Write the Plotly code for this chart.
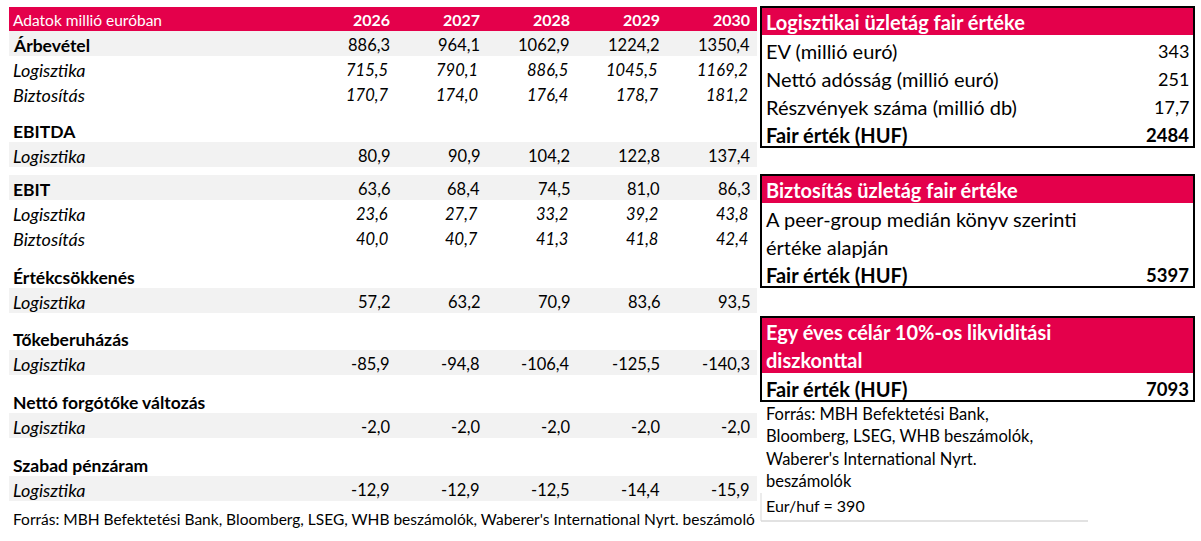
import plotly.graph_objects as go

# ---- data (millió euró) ----
years = ["2026", "2027", "2028", "2029", "2030"]
arbevetel = [886.3, 964.1, 1062.9, 1224.2, 1350.4]
arbevetel_log = [715.5, 790.1, 886.5, 1045.5, 1169.2]
arbevetel_bizt = [170.7, 174.0, 176.4, 178.7, 181.2]
ebitda_log = [80.9, 90.9, 104.2, 122.8, 137.4]
ebit = [63.6, 68.4, 74.5, 81.0, 86.3]
ebit_log = [23.6, 27.7, 33.2, 39.2, 43.8]
ebit_bizt = [40.0, 40.7, 41.3, 41.8, 42.4]
ertekcsokkenes_log = [57.2, 63.2, 70.9, 83.6, 93.5]
tokeberuhazas_log = [-85.9, -94.8, -106.4, -125.5, -140.3]
forgotoke_log = [-2.0, -2.0, -2.0, -2.0, -2.0]
szabad_penzaram_log = [-12.9, -12.9, -12.5, -14.4, -15.9]

ev = 343
netto_adossag = 251
reszvenyek = 17.7
fair_log = 2484
fair_bizt = 5397
celar = 7093
eurhuf = 390

RED = "#E4004B"
GRAY = "#F2F2F2"
FONT = "Lato"
W, H = 1201, 541


def fmt(v):
    return f"{v:.1f}".replace(".", ",")


fig = go.Figure()
shapes = []
annots = []


def text(x, y, s, size, anchor="left", color="black"):
    annots.append(dict(x=x, y=y, xref="x", yref="y", text=s, showarrow=False,
                       xanchor=anchor, yanchor="middle", borderpad=0,
                       font=dict(family=FONT, size=size, color=color)))


def rect(x0, y0, x1, y1, fill=None, line=None, lw=0):
    shapes.append(dict(type="rect", xref="x", yref="y", x0=x0, x1=x1, y0=y0, y1=y1,
                       fillcolor=fill or "rgba(0,0,0,0)",
                       line=dict(color=line or "rgba(0,0,0,0)", width=lw),
                       layer="below" if fill else "above"))


# ---- left table ----
L0, L1 = 9, 757
col_right = [390, 480, 570, 660, 750]
ROW = 25

# header
rect(L0, 7, L1, 31, fill=RED)
text(12, 19.5, "Adatok millió euróban", 15.5, color="white")
for xr, yr in zip(col_right, years):
    text(xr + 1, 19.5, f"<b>{yr}</b>", 16, anchor="right", color="white")

# kind: total = bold label + plain values, sub = italic both, item = italic label + plain values,
# section = bold label only; number = gap height
rows = [
    ("Árbevétel", arbevetel, "total", True),
    ("Logisztika", arbevetel_log, "sub", False),
    ("Biztosítás", arbevetel_bizt, "sub", False),
    11,
    ("EBITDA", None, "section", False),
    ("Logisztika", ebitda_log, "item", True),
    8,
    ("EBIT", ebit, "total", True),
    ("Logisztika", ebit_log, "sub", False),
    ("Biztosítás", ebit_bizt, "sub", False),
    13,
    ("Értékcsökkenés", None, "section", False),
    ("Logisztika", ertekcsokkenes_log, "item", True),
    12,
    ("Tőkeberuházás", None, "section", False),
    ("Logisztika", tokeberuhazas_log, "item", True),
    13,
    ("Nettó forgótőke változás", None, "section", False),
    ("Logisztika", forgotoke_log, "item", True),
    13,
    ("Szabad pénzáram", None, "section", False),
    ("Logisztika", szabad_penzaram_log, "item", True),
]

y = 31
for r in rows:
    if isinstance(r, (int, float)):
        y += r
        continue
    label, vals, kind, shaded = r
    if shaded:
        rect(L0, y, L1, y + ROW, fill=GRAY)
    yc = y + ROW / 2 + 1.5
    if kind in ("total", "section"):
        text(12, yc, f"<b>{label}</b>", 17.5)
    else:
        text(12, yc, f"<i>{label}</i>", 18)
    if vals is not None:
        for xr, v in zip(col_right, vals):
            if kind == "sub":
                text(xr - 1, yc, f"<i>{fmt(v)}</i>", 16.5, anchor="right")
            else:
                text(xr + 1, yc, fmt(v), 16.5, anchor="right")
    y += ROW

text(12, 519, "Forrás: MBH Befektetési Bank, Bloomberg, LSEG, WHB beszámolók, "
     "Waberer's International Nyrt. beszámoló", 15.5)

# ---- right panel ----
R0, R1 = 761, 1194
RROW = 28
TX = 765
VX = 1190

boxes = [
    (["Logisztikai üzletág fair értéke"],
     [("EV (millió euró)", str(ev), False),
      ("Nettó adósság (millió euró)", str(netto_adossag), False),
      ("Részvények száma (millió db)", fmt(reszvenyek), False),
      ("Fair érték (HUF)", str(fair_log), True)], 7),
    (["Biztosítás üzletág fair értéke"],
     [("A peer-group medián könyv szerinti", "", False),
      ("értéke alapján", "", False),
      ("Fair érték (HUF)", str(fair_bizt), True)], 175),
    (["Egy éves célár 10%-os likviditási", "diszkonttal"],
     [("Fair érték (HUF)", str(celar), True)], 317),
]

for titles, brows, top in boxes:
    th = RROW * len(titles)
    rect(R0, top, R1, top + th, fill=RED)
    for i, t in enumerate(titles):
        text(TX, top + RROW * i + RROW / 2 + 1, f"<b>{t}</b>", 20, color="white")
    yy = top + th
    for lab, val, bold in brows:
        yc = yy + RROW / 2 + 2
        if bold:
            text(TX, yc, f"<b>{lab}</b>", 20)
            text(VX, yc, f"<b>{val}</b>", 18.5, anchor="right")
        else:
            text(TX, yc, lab, 20)
            if val:
                text(VX, yc, val, 18, anchor="right")
        yy += RROW
    rect(R0, top, R1, yy, line="black", lw=2)

src_lines = ["Forrás: MBH Befektetési Bank,", "Bloomberg, LSEG, WHB beszámolók,",
             "Waberer's International Nyrt.", "beszámolók"]
for i, s in enumerate(src_lines):
    text(TX, 414 + 22.3 * i, s, 16.5)
text(TX, 505, f"Eur/huf = {eurhuf}", 16)
shapes.append(dict(type="line", xref="x", yref="y", x0=R0, x1=R0, y0=493, y1=521,
                   line=dict(color="#D9D9D9", width=1)))
shapes.append(dict(type="line", xref="x", yref="y", x0=R0, x1=1088, y0=521, y1=521,
                   line=dict(color="#D9D9D9", width=1.5)))

fig.update_layout(
    width=W, height=H, margin=dict(l=0, r=0, t=0, b=0),
    paper_bgcolor="white", plot_bgcolor="white", showlegend=False,
    xaxis=dict(range=[0, W], visible=False, fixedrange=True),
    yaxis=dict(range=[H, 0], visible=False, fixedrange=True),
    shapes=shapes, annotations=annots,
)

fig.write_html("out.html", config={"displayModeBar": False},
               post_script="document.body.style.margin='0';")
